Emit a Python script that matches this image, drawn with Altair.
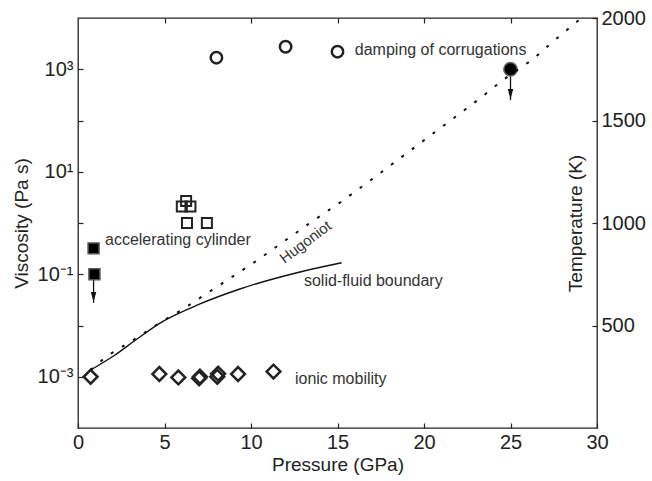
import altair as alt
import pandas as pd

# ---------------- data ----------------
x_ticks = [0, 5, 10, 15, 20, 25, 30]
x_top_ticks = [5, 10, 15, 20, 25]
visc_ticks = [1e-3, 1e-2, 1e-1, 1, 10, 100, 1000]
visc_tick_labels = ['10⁻³', '', '10⁻¹', '', '10¹', '', '10³']
temp_ticks = [500, 1000, 1500, 2000]

# accelerating cylinder (filled squares) and open squares
cyl_P = [0.9, 0.95]
cyl_eta = [0.32, 0.10]
sq_P = [6.0, 6.5, 6.25, 6.3, 7.45]
sq_eta = [2.1, 2.1, 2.7, 1.0, 1.0]

# damping of corrugations (open circles) and upper bound (filled circle)
corr_P = [8.0, 12.0, 15.0]
corr_eta = [1680, 2750, 2200]
corr_up_P = [25.0]
corr_up_eta = [1000]

# ionic mobility (diamonds)
ion_P = [0.73, 4.7, 5.8, 7.0, 7.05, 8.05, 8.1, 9.25, 11.3]
ion_eta = [1.0e-3, 1.13e-3, 0.97e-3, 0.93e-3, 1.0e-3, 1.0e-3, 1.15e-3, 1.13e-3, 1.26e-3]

# upper-bound arrows
arrow_P = [0.9, 25.0]
arrow_from = [0.10, 1000]
arrow_to = [0.0275, 251]
arrow_head = [0.036, 329]

# solid-fluid boundary and Hugoniot (temperature, right axis)
sf_P = [0.73, 2.14, 3.41, 4.74, 7.05, 9.36, 12.83, 15.24]
sf_T = [283, 356, 434, 512, 605, 678, 761, 806]
hug_P = [0.73, 1.66, 3.49, 4.74, 6.0, 6.57, 8.4, 10.33, 13.37, 15.18, 16.46,
         23.24, 24.49, 26.28, 27.57, 28.84, 29.1]
hug_T = [283, 350, 445, 514, 576, 608, 709, 816, 998, 1102, 1180,
         1608, 1693, 1798, 1893, 1982, 2000]

# annotations (viscosity scale)
ann_text = ['accelerating cylinder', 'damping of corrugations', 'ionic mobility']
ann_P = [1.56, 16.0, 12.54]
ann_eta = [0.466, 2380, 8.9e-4]
# annotations (temperature scale)
tann_text = ['solid-fluid boundary']
tann_P = [13.06]
tann_T = [717]
hug_label = ['Hugoniot']
hug_label_P = [13.15]
hug_label_T = [907]

# ---------------- chart ----------------
FONT = 'Liberation Sans'
INK = '#222222'
XDOM = alt.Scale(domain=[0, 30], nice=False)
YLOG = alt.Scale(type='log', domain=[1e-4, 1e4], nice=False)
YLIN = alt.Scale(domain=[0, 2000], nice=False)

label_expr = " : ".join(
    f"abs(datum.value - {v!r}) < {v * 1e-6!r} ? '{l}'"
    for v, l in zip(visc_ticks, visc_tick_labels) if l
) + " : ''"

x_bottom = alt.X('P:Q', scale=XDOM, title='Pressure (GPa)',
                 axis=alt.Axis(values=x_ticks, orient='bottom', offset=-5, tickSize=5,
                               domain=False, labelPadding=4, labelFlush=False,
                               titlePadding=3))
x_plain = alt.X('P:Q', scale=XDOM)
y_visc = alt.Y('eta:Q', scale=YLOG, title='Viscosity (Pa s)',
               axis=alt.Axis(values=visc_ticks, labelExpr=label_expr, offset=-5,
                             tickSize=5, domain=False, labelPadding=5, titlePadding=6))
y_visc_plain = alt.Y('eta:Q', scale=YLOG)

df_cyl = pd.DataFrame({'P': cyl_P, 'eta': cyl_eta})
df_sq = pd.DataFrame({'P': sq_P, 'eta': sq_eta})
df_corr = pd.DataFrame({'P': corr_P, 'eta': corr_eta})
df_up = pd.DataFrame({'P': corr_up_P, 'eta': corr_up_eta})
df_ion = pd.DataFrame({'P': ion_P, 'eta': ion_eta})
df_arrow = pd.DataFrame({'P': arrow_P, 'eta': arrow_from, 'eta2': arrow_to, 'head': arrow_head})
df_ann = pd.DataFrame({'P': ann_P, 'eta': ann_eta, 'text': ann_text})

arrow_shaft = alt.Chart(df_arrow).mark_rule(color='#111', strokeWidth=1.3).encode(
    x=x_bottom, y=y_visc, y2='eta2:Q')
arrow_tip = alt.Chart(df_arrow).mark_point(
    shape='M0,1L-0.55,-1L0.55,-1Z', size=100, filled=True, color='#111', opacity=1
).encode(x=x_plain, y=alt.Y('head:Q', scale=YLOG))

squares_open = alt.Chart(df_sq).mark_point(
    shape='square', size=100, filled=False, stroke=INK, strokeWidth=2, opacity=1
).encode(x=x_plain, y=y_visc_plain)
squares_fill = alt.Chart(df_cyl).mark_point(
    shape='square', size=120, filled=True, fill='#000', stroke='#555', strokeWidth=1.5, opacity=1
).encode(x=x_plain, y=y_visc_plain)
circles_open = alt.Chart(df_corr).mark_point(
    shape='circle', size=130, filled=False, stroke=INK, strokeWidth=2.5, opacity=1
).encode(x=x_plain, y=y_visc_plain)
circle_fill = alt.Chart(df_up).mark_point(
    shape='circle', size=180, filled=True, fill='#000', stroke='#666', strokeWidth=1.5, opacity=1
).encode(x=x_plain, y=y_visc_plain)
diamonds = alt.Chart(df_ion).mark_point(
    shape='diamond', size=190, filled=False, stroke=INK, strokeWidth=2.5, opacity=1
).encode(x=x_plain, y=y_visc_plain)
ann = alt.Chart(df_ann).mark_text(
    align='left', baseline='middle', font=FONT, fontSize=16, color='#333'
).encode(x=x_plain, y=y_visc_plain, text='text:N')

visc = alt.layer(arrow_shaft, arrow_tip, squares_open, squares_fill, circles_open,
                 circle_fill, diamonds, ann)

# temperature layers
x_top = alt.X('P:Q', scale=XDOM, title=None,
              axis=alt.Axis(values=x_top_ticks, orient='top', offset=-5, tickSize=5,
                            domain=False, labels=False, title=None))
y_temp = alt.Y('T:Q', scale=YLIN, title='Temperature (K)',
               axis=alt.Axis(values=temp_ticks, format='d', orient='right', offset=-5,
                             tickSize=5, domain=False, labelPadding=4, titleAngle=270,
                             titleX=-17, titleY=205, titleAlign='center',
                             titleBaseline='middle'))
y_temp_plain = alt.Y('T:Q', scale=YLIN)

df_sf = pd.DataFrame({'P': sf_P, 'T': sf_T})
df_hug = pd.DataFrame({'P': hug_P, 'T': hug_T})
df_tann = pd.DataFrame({'P': tann_P, 'T': tann_T, 'text': tann_text})
df_hl = pd.DataFrame({'P': hug_label_P, 'T': hug_label_T, 'text': hug_label})

sf_line = alt.Chart(df_sf).mark_line(color='#111', strokeWidth=1.4, interpolate='monotone').encode(
    x=x_top, y=y_temp, order='P:Q')
hug_line = alt.Chart(df_hug).mark_line(color='#111', strokeWidth=2, strokeDash=[3, 10]).encode(
    x=x_plain, y=y_temp_plain, order='P:Q')
tann = alt.Chart(df_tann).mark_text(
    align='left', baseline='middle', font=FONT, fontSize=16, color='#333'
).encode(x=x_plain, y=y_temp_plain, text='text:N')
hl = alt.Chart(df_hl).mark_text(
    align='center', baseline='middle', font=FONT, fontSize=15, color='#333', angle=323
).encode(x=x_plain, y=y_temp_plain, text='text:N')

temp = alt.layer(sf_line, hug_line, tann, hl)

chart = alt.layer(visc, temp).resolve_scale(y='independent').resolve_axis(
    x='independent', y='independent'
).properties(
    width=519, height=410,
    autosize=alt.AutoSizeParams(type='none'),
    padding={'left': 78, 'top': 18, 'right': 55, 'bottom': 53},
    background='white',
).configure_axis(
    labelFont=FONT, titleFont=FONT, labelFontSize=20, titleFontSize=19,
    labelColor=INK, titleColor=INK, tickColor=INK, tickWidth=1.2,
    titleFontWeight='normal', grid=False,
).configure_view(stroke=INK, strokeWidth=1.3)

chart.save('out.html', embed_options={'renderer': 'svg', 'actions': False})
